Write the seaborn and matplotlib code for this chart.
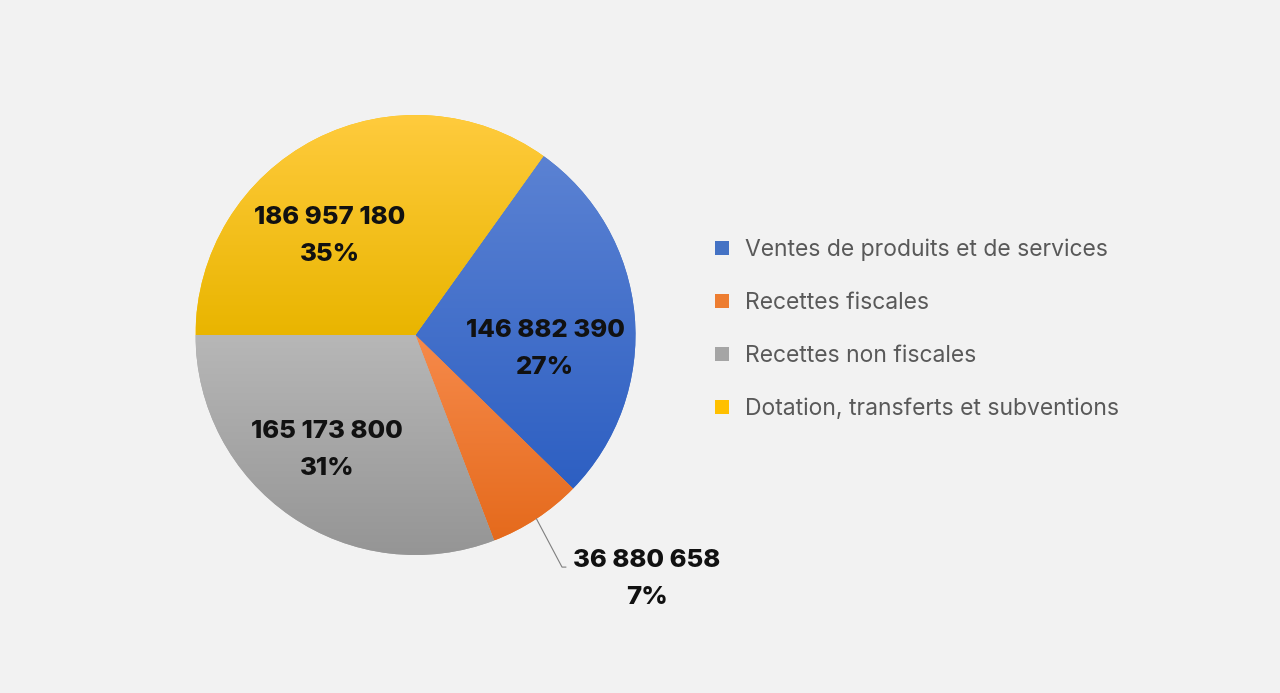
import numpy as np
import seaborn as sns
import matplotlib.pyplot as plt
from matplotlib.colors import LinearSegmentedColormap

# data
categories = ["Ventes de produits et de services", "Recettes fiscales",
              "Recettes non fiscales", "Dotation, transferts et subventions"]
values = [146882390, 36880658, 165173800, 186957180]

# gradient colours per slice (top, bottom), Excel-like
grad_top = ["#5B82D3", "#F68A4B", "#B7B7B7", "#FFCB3D"]
grad_bottom = ["#2D5FC2", "#E56A1C", "#959595", "#E9B500"]
base_colors = sns.color_palette(["#4472C4", "#ED7D31", "#A5A5A5", "#FFC000"])

# label positions (pie units, radius = 1)
label_pos = [(0.589, -0.064), (1.052, -1.109), (-0.402, -0.523), (-0.389, 0.45)]

sns.set_style("white")
plt.rcParams["font.family"] = ["Inter", "DejaVu Sans"]

W, H = 1280, 693
fig = plt.figure(figsize=(W / 100, H / 100), dpi=100)
fig.patch.set_facecolor("#F2F2F2")

cx, cy, R = 415.5, 335, 220
ax = fig.add_axes([(cx - R) / W, (H - cy - R) / H, 2 * R / W, 2 * R / H])
ax.set_facecolor("none")

total = sum(values)
# first slice starts where the last one closes the pie at 9 o'clock
start = 90 - (270 + values[-1] / total * 360)
wedges, _ = ax.pie(values, colors=base_colors, startangle=start, counterclock=False,
                   radius=1, wedgeprops=dict(linewidth=0))

# gradient fill clipped to each wedge
for w, c0, c1 in zip(wedges, grad_top, grad_bottom):
    ext = w.get_path().get_extents()
    cmap = LinearSegmentedColormap.from_list("g", [c0, c1])
    grad = np.linspace(0, 1, 256).reshape(-1, 1)
    im = ax.imshow(grad, cmap=cmap, aspect="auto", interpolation="bilinear",
                   extent=[ext.x0, ext.x1, ext.y0, ext.y1], origin="upper", zorder=1.5)
    im.set_clip_path(w)

ax.set_xlim(-1, 1)
ax.set_ylim(-1, 1)
ax.set_aspect("equal")
ax.axis("off")

# data labels
for v, (x, y) in zip(values, label_pos):
    txt = f"{v:,}".replace(",", " ") + f"\n{v / total:.0%}"
    ax.text(x, y, txt, ha="center", va="center", fontsize=18.5, fontweight="heavy",
            color="#111111", linespacing=1.82, zorder=5)

# leader line for the small slice
w = wedges[1]
mid = np.deg2rad((w.theta1 + w.theta2) / 2)
p0 = (np.cos(mid), np.sin(mid))
ax.plot([p0[0], 0.666, 0.684], [p0[1], -1.055, -1.055], color="#7F7F7F",
        linewidth=0.8, clip_on=False, zorder=4)

# legend
leg = fig.legend(wedges, categories, loc="center left", bbox_to_anchor=(704 / W, 1 - 329.5 / H),
                 frameon=False, prop=dict(family=["Inter", "DejaVu Sans"], weight="normal", size=16.5),
                 labelcolor="#595959",
                 handlelength=0.58, handleheight=0.58, handletextpad=0.7,
                 labelspacing=1.35, borderpad=0)

fig.savefig("out.png", dpi=100, facecolor=fig.get_facecolor())
